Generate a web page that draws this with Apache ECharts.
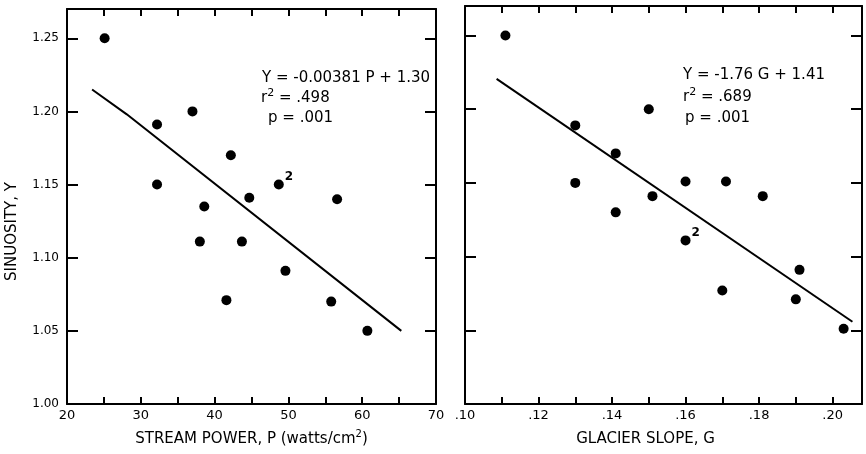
<!DOCTYPE html>
<html>
<head>
<meta charset="utf-8">
<script src="https://cdn.jsdelivr.net/npm/echarts@6/dist/echarts.min.js"></script>
<style>
  html, body { margin: 0; padding: 0; background: #fff; }
  #chart { width: 866px; height: 454px; }
</style>
</head>
<body>
<div id="chart"></div>
<script>
// left panel: sinuosity vs stream power
var powerP = [25.1, 32.2, 37.0, 32.2, 42.2, 48.7, 44.7, 38.6, 56.6, 38.0, 43.7, 49.6, 41.6, 55.8, 60.7];
var sinuP = [1.250, 1.191, 1.200, 1.150, 1.170, 1.150, 1.141, 1.135, 1.140, 1.111, 1.111, 1.091, 1.071, 1.070, 1.050];
var countP = [1, 1, 1, 1, 1, 2, 1, 1, 1, 1, 1, 1, 1, 1, 1];
var fitPx = [23.4, 28.1, 65.3];
var fitPy = [1.215, 1.198, 1.050];

// right panel: sinuosity vs glacier slope
var slopeG = [0.111, 0.130, 0.150, 0.141, 0.130, 0.160, 0.171, 0.151, 0.181, 0.141, 0.160, 0.191, 0.170, 0.190, 0.203];
var sinuG = [1.250, 1.189, 1.200, 1.170, 1.150, 1.151, 1.151, 1.141, 1.141, 1.130, 1.111, 1.091, 1.077, 1.071, 1.051];
var countG = [1, 1, 1, 1, 1, 1, 1, 1, 1, 1, 2, 1, 1, 1, 1];
var fitGx = [0.1086, 0.2054];
var fitGy = [1.2206, 1.0558];

// ticks and labels
var yTicks = [1.00, 1.05, 1.10, 1.15, 1.20, 1.25];
var xTicksP = [20, 25, 30, 35, 40, 45, 50, 55, 60, 65, 70];
var xLabelsP = [20, 30, 40, 50, 60, 70];
var xTicksG = [0.10, 0.11, 0.12, 0.13, 0.14, 0.15, 0.16, 0.17, 0.18, 0.19, 0.20];
var xLabelsG = [0.10, 0.12, 0.14, 0.16, 0.18, 0.20];

var FONT = 'DejaVu Sans';
var INK = '#000';

function pairs(xs, ys) {
  return xs.map(function (x, i) { return [x, ys[i]]; });
}

function points(xs, ys, counts) {
  return xs.map(function (x, i) {
    var item = { value: [x, ys[i]] };
    if (counts[i] > 1) {
      item.label = {
        show: true,
        formatter: String(counts[i]),
        position: 'right',
        distance: 1,
        offset: [0, -8],
        color: INK,
        fontFamily: FONT,
        fontSize: 12,
        fontWeight: 'bold'
      };
    }
    return item;
  });
}

var lineStyle = { color: INK, width: 2 };

function xAxisOf(grid, pos, min, max, step, ticks, labels, fmt, name) {
  return {
    type: 'value',
    gridIndex: grid,
    position: pos,
    min: min,
    max: max,
    interval: step,
    splitLine: { show: false },
    axisLine: { show: true, onZero: false, lineStyle: lineStyle },
    axisTick: { show: true, inside: true, length: 7, lineStyle: { color: INK, width: 2 }, customValues: ticks },
    axisLabel: {
      show: pos === 'bottom',
      customValues: labels,
      margin: 5,
      color: INK,
      fontFamily: FONT,
      fontSize: 13,
      formatter: fmt
    },
    name: pos === 'bottom' ? name : '',
    nameLocation: 'middle',
    nameGap: 25,
    nameMoveOverlap: false,
    nameTextStyle: {
      color: INK,
      fontFamily: FONT,
      fontSize: 15,
      lineHeight: 20,
      padding: grid === 1 ? [0, 36, 0, 0] : 0,
      rich: { sup: { fontSize: 10, fontFamily: FONT, color: INK, verticalAlign: 'top', lineHeight: 12 } }
    }
  };
}

function yAxisOf(grid, pos, showLabels) {
  return {
    type: 'value',
    gridIndex: grid,
    position: pos,
    min: 1.00,
    max: 1.27,
    interval: 0.05,
    splitLine: { show: false },
    axisLine: { show: true, onZero: false, lineStyle: lineStyle },
    axisTick: { show: true, inside: true, length: 11, lineStyle: { color: INK, width: 2 }, customValues: yTicks },
    axisLabel: {
      show: showLabels,
      customValues: yTicks,
      margin: 8,
      color: INK,
      fontFamily: FONT,
      fontSize: 12,
      formatter: function (v) { return v.toFixed(2); }
    },
    name: showLabels ? 'SINUOSITY, Y' : '',
    nameLocation: 'middle',
    nameGap: 47,
    nameMoveOverlap: false,
    nameTextStyle: { color: INK, fontFamily: FONT, fontSize: 15, padding: [0, 50, 0, 0] }
  };
}

function fmtP(v) {
  return xLabelsP.indexOf(Math.round(v)) >= 0 && Math.abs(v - Math.round(v)) < 1e-6 ? String(Math.round(v)) : '';
}
function fmtG(v) {
  var h = Math.round(v * 100);
  return xLabelsG.some(function (g) { return Math.abs(g - v) < 1e-6; }) ? '.' + h : '';
}

function eqText(x, y, txt) {
  return {
    type: 'text',
    x: x,
    y: y,
    style: {
      text: txt,
      fill: INK,
      fontFamily: FONT,
      fontSize: 15,
      verticalAlign: 'middle',
      rich: {
        n: { fontSize: 15, fontFamily: FONT, color: INK, lineHeight: 20 },
        sup: { fontSize: 11, fontFamily: FONT, color: INK, verticalAlign: 'top', lineHeight: 12 }
      }
    }
  };
}

var chart = echarts.init(document.getElementById('chart'), null, { renderer: 'canvas' });

chart.setOption({
  backgroundColor: '#fff',
  animation: false,
  grid: [
    { left: 67, top: 9, width: 369, height: 397 },
    { left: 465, top: 6, width: 397, height: 399 }
  ],
  xAxis: [
    xAxisOf(0, 'bottom', 20, 70, 5, xTicksP, xLabelsP, fmtP, 'STREAM POWER, P (watts/cm{sup|2})'),
    xAxisOf(0, 'top', 20, 70, 5, xTicksP, xLabelsP, fmtP, ''),
    xAxisOf(1, 'bottom', 0.10, 0.208, 0.01, xTicksG, xLabelsG, fmtG, 'GLACIER SLOPE, G'),
    xAxisOf(1, 'top', 0.10, 0.208, 0.01, xTicksG, xLabelsG, fmtG, '')
  ],
  yAxis: [
    yAxisOf(0, 'left', true),
    yAxisOf(0, 'right', false),
    yAxisOf(1, 'left', false),
    yAxisOf(1, 'right', false)
  ],
  series: [
    {
      type: 'scatter',
      xAxisIndex: 0,
      yAxisIndex: 0,
      symbolSize: 10,
      itemStyle: { color: INK, opacity: 1 },
      data: points(powerP, sinuP, countP)
    },
    {
      type: 'line',
      xAxisIndex: 0,
      yAxisIndex: 0,
      symbol: 'none',
      lineStyle: lineStyle,
      data: pairs(fitPx, fitPy)
    },
    {
      type: 'scatter',
      xAxisIndex: 2,
      yAxisIndex: 2,
      symbolSize: 10,
      itemStyle: { color: INK, opacity: 1 },
      data: points(slopeG, sinuG, countG)
    },
    {
      type: 'line',
      xAxisIndex: 2,
      yAxisIndex: 2,
      symbol: 'none',
      lineStyle: lineStyle,
      data: pairs(fitGx, fitGy)
    }
  ],
  graphic: [
    eqText(262, 78, '{n|Y = -0.00381 P + 1.30}'),
    eqText(261, 98, '{n|r}{sup|2}{n| = .498}'),
    eqText(268, 118, '{n|p = .001}'),
    eqText(683, 75, '{n|Y = -1.76 G + 1.41}'),
    eqText(683, 97, '{n|r}{sup|2}{n| = .689}'),
    eqText(685, 118, '{n|p = .001}')
  ]
});
</script>
</body>
</html>
